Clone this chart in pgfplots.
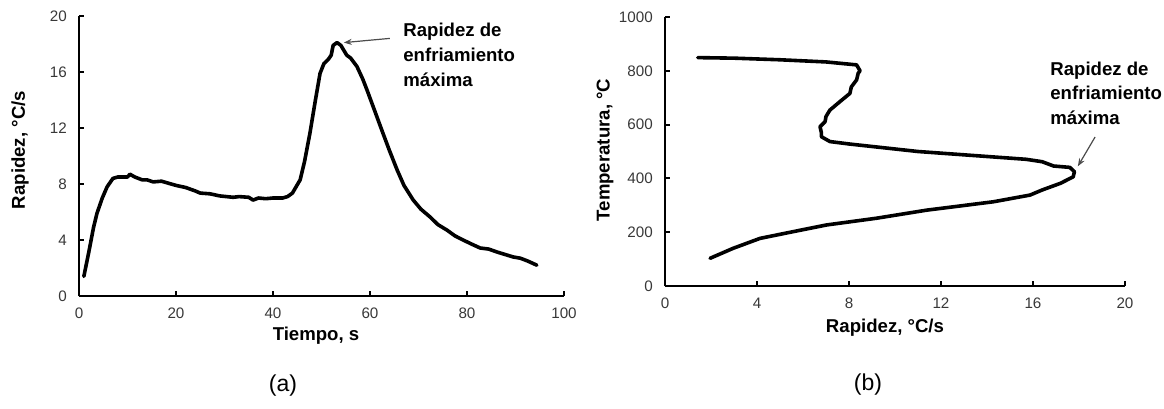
\documentclass[border=0pt]{standalone}
\usepackage{pgfplots}
\pgfplotsset{compat=1.18}
\usepackage{fontspec}
\setmainfont{Liberation Sans}
\usetikzlibrary{arrows.meta}

\pgfplotsset{
  myax/.style={
    scale only axis,
    axis x line=bottom, axis y line=left,
    axis line style={-, line width=1.2pt},
    tick align=inside,
    major tick length=2.5pt,
    every tick/.style={line width=1pt, black},
    tick label style={font=\fontsize{7.6}{8}\selectfont, text=black!78},
    /pgf/number format/assume math mode=true,
    /pgf/number format/1000 sep={},
    xticklabel style={yshift=-2.6pt},
    yticklabel style={xshift=-2.6pt},
    clip=false,
    scaled ticks=false,
  }
}

\begin{document}
\begin{tikzpicture}
\path[use as bounding box] (0,0) rectangle (582pt,204pt);

% (a)
\begin{axis}[myax,
  at={(39.5pt,56pt)}, anchor=south west,
  width=242.5pt, height=140pt,
  xmin=0, xmax=100, ymin=0, ymax=20,
  xtick={0,20,40,60,80,100}, ytick={0,4,8,12,16,20}]
\addplot[black, line width=1.8pt, line join=round, line cap=round] coordinates {
(1.0,1.4) (2.0,3.1) (3.0,4.9) (3.7,5.9) (4.8,7.0) (5.8,7.8) (7.0,8.4) (8.0,8.5)
(9.0,8.5) (10.0,8.5) (10.5,8.7) (11.5,8.5) (13.0,8.3) (14.0,8.3) (15.3,8.15)
(17.0,8.2) (18.5,8.05) (20.0,7.9) (22.0,7.75) (24.0,7.5) (25.0,7.35) (27.0,7.3)
(29.0,7.15) (31.8,7.05) (33.0,7.1) (35.0,7.05) (35.9,6.85) (37.0,7.0) (38.5,6.95)
(40.0,7.0) (42.0,7.0) (43.0,7.1) (44.0,7.35) (45.6,8.3) (46.5,9.6) (47.6,11.6)
(48.7,13.9) (49.7,15.9) (50.5,16.6) (51.4,16.9) (52.0,17.2) (52.4,17.9) (53.2,18.1)
(54.0,17.9) (55.2,17.2) (56.0,17.0) (57.3,16.4) (58.5,15.5) (59.4,14.7) (61.0,13.2)
(62.7,11.6) (64.0,10.4) (65.6,9.0) (67.0,7.9) (68.9,6.86) (70.5,6.2) (72.4,5.64)
(74.0,5.1) (75.9,4.7) (77.5,4.3) (79.2,4.0) (81.0,3.7) (82.7,3.43) (84.5,3.35)
(86.2,3.14) (88.0,2.95) (89.5,2.79) (91.0,2.7) (92.5,2.5) (94.4,2.2)
};
\draw[black!70, line width=0.6pt, -{Stealth[length=4pt,width=3pt]}] (axis cs:64.1,18.4) -- (axis cs:54.6,18.1);
\end{axis}

% (b)
\begin{axis}[myax,
  at={(332.5pt,61pt)}, anchor=south west,
  width=230pt, height=134.5pt,
  xmin=0, xmax=20, ymin=0, ymax=1000,
  xtick={0,4,8,12,16,20}, ytick={0,200,400,600,800,1000}]
\addplot[black, line width=1.8pt, line join=round, line cap=round] coordinates {
(1.43,849) (3.0,847) (5.0,841) (7.0,833) (8.33,822) (8.48,800) (8.4,791) (8.33,766)
(8.1,740) (8.04,716) (7.6,685) (7.17,654) (7.0,630) (6.96,611) (6.74,592) (6.8,570)
(6.8,555) (7.17,537) (8.0,528) (11.0,500) (15.7,471) (16.4,462) (16.9,446) (17.6,441)
(17.8,425) (17.75,406) (17.2,382) (16.4,357) (15.87,338) (14.27,313) (11.38,282)
(9.2,252) (7.03,227) (5.57,202) (4.13,177) (2.96,140) (1.96,103)
};
\draw[black!70, line width=0.6pt, -{Stealth[length=4pt,width=3pt]}] (axis cs:18.7,554) -- (axis cs:17.95,445);
\end{axis}

% labels
\node[font=\fontsize{9.3}{11}\selectfont\bfseries] at (158pt,36pt) {Tiempo, s};
\node[font=\fontsize{9.3}{11}\selectfont\bfseries, rotate=90] at (10pt,129pt) {Rapidez, °C/s};
\node[font=\fontsize{9.3}{11}\selectfont\bfseries] at (442.5pt,40pt) {Rapidez, °C/s};
\node[font=\fontsize{9.3}{11}\selectfont\bfseries, rotate=90] at (302.5pt,129pt) {Temperatura, °C};
\node[font=\fontsize{11.5}{13}\selectfont] at (141.5pt,11pt) {(a)};
\node[font=\fontsize{11.5}{13}\selectfont] at (434pt,11.5pt) {(b)};
\node[font=\fontsize{9.3}{12.5}\selectfont\bfseries, align=left, anchor=north west, inner sep=0pt] at (201.5pt,192.5pt) {Rapidez de\\enfriamiento\\máxima};
\node[font=\fontsize{9.3}{12.3}\selectfont\bfseries, align=left, anchor=north west, inner sep=0pt] at (525pt,173.3pt) {Rapidez de\\enfriamiento\\máxima};
\end{tikzpicture}
\end{document}
